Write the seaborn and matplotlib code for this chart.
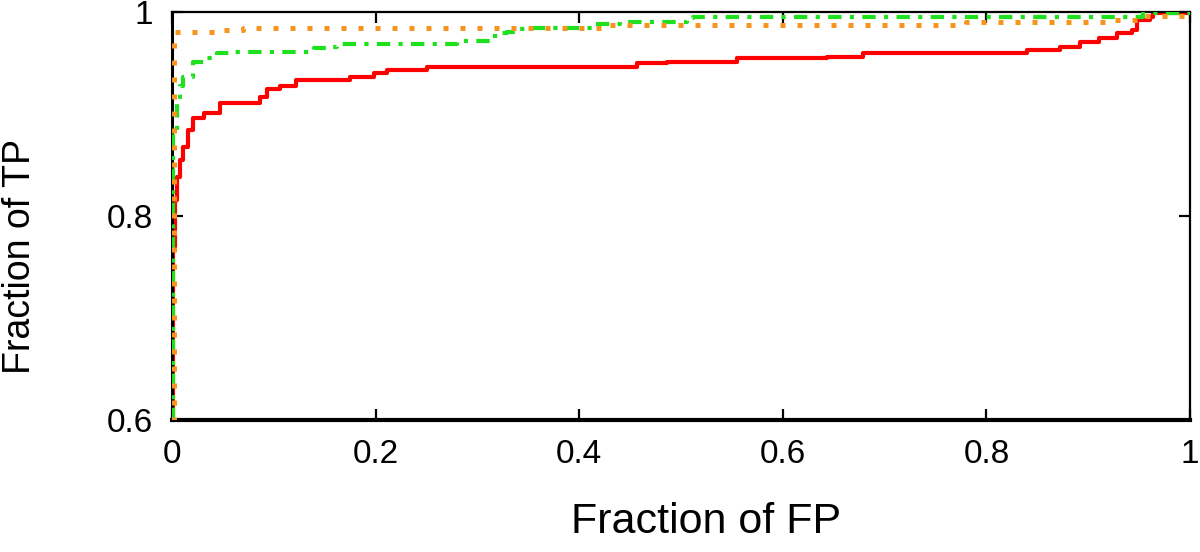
import matplotlib
matplotlib.use("Agg")
import matplotlib.pyplot as plt
import seaborn as sns
import pandas as pd

# ROC-like curves (fraction of FP vs fraction of TP)
red_fp = [0, 0.0013, 0.003, 0.0046, 0.008, 0.011, 0.016, 0.021, 0.031, 0.047, 0.086, 0.093,
          0.106, 0.122, 0.175, 0.198, 0.211, 0.25, 0.457, 0.486, 0.555, 0.643, 0.679, 0.84,
          0.872, 0.892, 0.911, 0.928, 0.943, 0.948, 0.961, 0.964, 1.0]
red_tp = [0.6, 0.767, 0.816, 0.838, 0.855, 0.868, 0.884, 0.896, 0.901, 0.911, 0.917, 0.925,
          0.927, 0.933, 0.936, 0.940, 0.943, 0.946, 0.950, 0.951, 0.955, 0.956, 0.960, 0.963,
          0.966, 0.971, 0.975, 0.979, 0.982, 0.992, 0.995, 0.999, 1.0]

green_fp = [0, 0.001, 0.0046, 0.008, 0.011, 0.021, 0.031, 0.044, 0.057, 0.136, 0.139, 0.155,
            0.162, 0.28, 0.312, 0.322, 0.329, 0.342, 0.348, 0.414, 0.44, 0.506, 0.512, 0.954, 1.0]
green_tp = [0.6, 0.881, 0.914, 0.927, 0.936, 0.951, 0.955, 0.960, 0.961, 0.963, 0.965, 0.966,
            0.969, 0.972, 0.976, 0.979, 0.980, 0.983, 0.984, 0.988, 0.990, 0.994, 0.995, 0.999, 1.0]

orange_fp = [0, 0.002, 0.05, 0.07, 0.427, 0.78, 0.918, 0.948, 1.0]
orange_tp = [0.6, 0.980, 0.982, 0.984, 0.987, 0.990, 0.992, 0.996, 0.996]

x_ticks = [0, 0.2, 0.4, 0.6, 0.8, 1]
x_tick_labels = ["0", "0.2", "0.4", "0.6", "0.8", "1"]
y_ticks = [0.6, 0.8, 1.0]
y_tick_labels = ["0.6", "0.8", "1"]

sns.set_theme(style="ticks")
plt.rcParams["font.family"] = ["Liberation Sans", "DejaVu Sans"]

fig = plt.figure(figsize=(12, 5.52), dpi=100)
ax = fig.add_axes([172 / 1200, 1 - 420 / 552, 1018 / 1200, 408 / 552])

df_red = pd.DataFrame({"fp": red_fp, "tp": red_tp})
df_green = pd.DataFrame({"fp": green_fp, "tp": green_tp})
df_orange = pd.DataFrame({"fp": orange_fp, "tp": orange_tp})

sns.lineplot(data=df_green, x="fp", y="tp", ax=ax, color="#1ee01e", linewidth=3.0,
             estimator=None, sort=False, drawstyle="steps-post", zorder=3)
ax.lines[-1].set_dashes([3.2, 2.0, 1.0, 2.0])
sns.lineplot(data=df_orange, x="fp", y="tp", ax=ax, color="#f7941d", linewidth=3.6,
             estimator=None, sort=False, drawstyle="steps-post", zorder=4)
ax.lines[-1].set_dashes([1.0, 2.4])
sns.lineplot(data=df_red, x="fp", y="tp", ax=ax, color="#ff0000", linewidth=3.0,
             estimator=None, sort=False, drawstyle="steps-post", zorder=2)

ax.set_xlim(0, 1)
ax.set_ylim(0.6, 1.0)
ax.set_xticks(x_ticks)
ax.set_xticklabels(x_tick_labels)
ax.set_yticks(y_ticks)
ax.set_yticklabels(y_tick_labels)
ax.tick_params(axis="both", direction="in", length=8, width=1.6, color="black",
               top=True, right=True, labelsize=24, labelcolor="black")
ax.tick_params(axis="x", pad=14)
ax.tick_params(axis="y", pad=14)

for side in ["right", "top"]:
    ax.spines[side].set_linewidth(1.6)
    ax.spines[side].set_color("black")
ax.spines["bottom"].set_linewidth(3.0)
ax.spines["bottom"].set_color("black")
ax.spines["left"].set_linewidth(2.2)
ax.spines["left"].set_color("black")

ax.set_xlabel("Fraction of FP", fontsize=31, color="black")
ax.xaxis.set_label_coords(0.5246, -0.200)
ax.set_ylabel("Fraction of TP", fontsize=27, color="black")
ax.yaxis.set_label_coords(-0.132, 0.40)
ax.set_facecolor("white")
fig.patch.set_facecolor("white")

fig.savefig("out.png", dpi=100, facecolor="white")
